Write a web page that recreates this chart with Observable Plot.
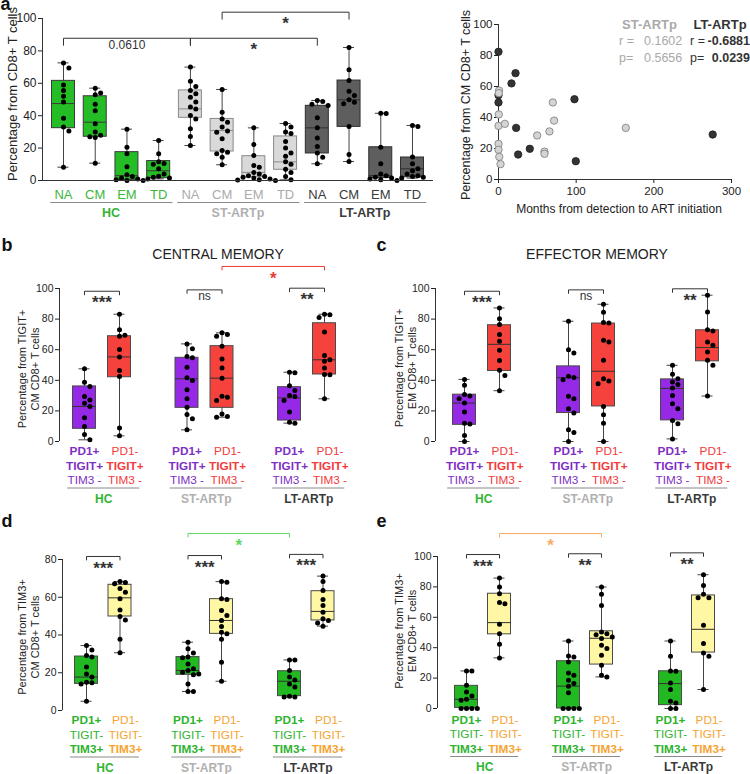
<!DOCTYPE html>
<html><head><meta charset="utf-8">
<script src="https://cdn.jsdelivr.net/npm/d3@7"></script>
<script src="https://cdn.jsdelivr.net/npm/@observablehq/plot@0.6"></script>
<style>
body{margin:0;background:#fff;font-family:"Liberation Sans",Arial,Helvetica,sans-serif;}
#fig{position:relative;width:750px;height:774px;overflow:hidden;background:#fff;}
.ptitle{position:absolute;font-size:14px;line-height:14px;color:#222;transform:translateX(-50%);white-space:nowrap;}
.ytitle{position:absolute;color:#222;white-space:nowrap;text-align:center;transform:translate(-50%,-50%) rotate(-90deg);}
.leg{position:absolute;font-size:12.5px;line-height:17px;white-space:nowrap;}
.leg span{display:inline-block;}
svg{overflow:visible}
</style></head><body><div id="fig"></div>
<script>
// ================= DATA =================
// Panel a: subsets x groups
const aCategories = ["NA", "CM", "EM", "TD"];
const aGroups = ["HC", "ST-ARTp", "LT-ARTp"];
// [min, q1, median, q3, max] per box, order: HC NA..TD, ST NA..TD, LT NA..TD
const aStats = [
  [8.2, 32.3, 47.5, 61.5, 72.6], [10.7, 27, 36, 52, 57], [0, 0.4, 3, 17.5, 31.7], [1, 1.4, 6, 12, 24.7],
  [21.6, 38.7, 44.2, 55.6, 70], [9.7, 17.9, 30.9, 38, 56.2], [0, 2, 5, 15, 32.5], [0.4, 6.6, 11.5, 27.2, 35.2],
  [10.3, 16.7, 32.5, 46.1, 49.4], [11.7, 33.1, 49.8, 61.7, 82.1], [0, 1.5, 3, 20.5, 41.5], [1.5, 2, 7.2, 14.2, 34]
];
const aPoints = [
  [72.6, 69.5, 59, 55.5, 52, 48.5, 38.5, 33, 30.5, 8.2],
  [57, 54, 53, 47, 43, 35, 30, 28, 27, 26.5, 10.7],
  [31.7, 20.6, 16.5, 8.5, 3.5, 2.5, 1.5, 1, 0.5, 0, 0],
  [24.7, 16.5, 11.5, 10.5, 10, 7.2, 4, 2.7, 2, 1.5, 1],
  [70, 61.3, 58, 55.5, 53.5, 51.4, 48.4, 45.3, 44.2, 40.1, 38, 31.9, 27.2, 21.6],
  [56.2, 42.2, 38, 36, 33, 30.5, 29.8, 25.7, 18.5, 17.5, 16.5, 14.4, 9.7],
  [32.5, 22.2, 15.4, 9.3, 8.2, 5, 4, 3, 2.5, 2, 1.5, 1, 0.5, 0.3, 0],
  [35.2, 33, 30, 29, 24, 20, 17, 15, 11.5, 10, 7, 5, 2.5, 0.4],
  [49.4, 48.8, 47, 46.3, 38.7, 32.5, 26.3, 21, 16.9, 14.4, 10.3],
  [82.1, 68.3, 61.7, 55.1, 52.5, 49.8, 48.3, 47.3, 33.3, 16, 11.7],
  [41.5, 41.3, 20.5, 10.3, 4, 3, 2, 1.5, 1, 0.5, 0],
  [34, 33.3, 14.5, 10.3, 7.2, 6, 4, 3, 2.5, 2, 1.5]
];
const aComparisons = [
  {from: 0, to: 4, y: 87.8, label: "0.0610"},
  {from: 4, to: 8, y: 87.8, label: "*"},
  {from: 5, to: 9, y: 103.9, label: "*"}
];

// Scatter (panel a, right)
const stMonths = [0.7, 0.4, 0.4, 0, 8.2, 0, 0, 1, 2.6, 49.8, 65.6, 69.9, 71.6, 59.2, 59.2, 163.9];
const stCM = [57.4, 55.7, 42, 34.6, 35.9, 23, 19.2, 14.6, 9.9, 28.4, 31, 49.7, 38, 18, 16.6, 33.3];
const ltMonths = [0, 0, 0, 21.9, 16.7, 22.7, 25.3, 40.3, 97.8, 99.5, 275.8];
const ltCM = [82.4, 54.4, 49.7, 68.6, 62, 33.3, 16.1, 19.8, 51.8, 11.8, 29];
const corrGroups = ["ST-ARTp", "LT-ARTp"];
const corrR = ["0.1602", "-0.6881"];
const corrP = ["0.5656", "0.0239"];

// Panels b-e: groups x (PD1+ subset, PD1- subset)
const pGroups = ["HC", "ST-ARTp", "LT-ARTp"];
const bcLabels = [
  [["PD1+", "bold"], ["TIGIT+", "bold"], ["TIM3 -", "normal"]],
  [["PD1-", "normal"], ["TIGIT+", "bold"], ["TIM3 -", "normal"]]
];
const deLabels = [
  [["PD1+", "bold"], ["TIGIT-", "normal"], ["TIM3+", "bold"]],
  [["PD1-", "normal"], ["TIGIT-", "normal"], ["TIM3+", "bold"]]
];
// b: CM TIGIT+
const bStats = [
  [1.1, 8.3, 22.9, 36, 47.5], [3.7, 42, 55.3, 68.8, 83.2],
  [7.6, 22, 41, 54.7, 63.8], [15.9, 22, 41.4, 62.3, 71],
  [12, 13.7, 28.5, 35.5, 45.3], [27.9, 43.8, 53.4, 77.3, 83.2]
];
const bPoints = [
  [47.5, 38.8, 36, 29.4, 27.2, 25, 22.9, 15.5, 9.8, 4.6, 1.1],
  [83.2, 73, 69.5, 68.8, 60.1, 55.3, 46.4, 42.5, 8.9, 3.7],
  [63.8, 60.6, 55.5, 54.7, 48.6, 41.6, 39.9, 33.8, 27.9, 22.4, 17.6, 14.8, 7.6],
  [71, 70, 68.8, 62.3, 54, 48, 41.4, 29.6, 29, 26.8, 18, 16.3, 15.9],
  [45.3, 45, 36.4, 33.3, 30, 29.4, 26.8, 19.2, 12.6, 12],
  [83.2, 82.8, 81, 71.5, 56.2, 53.4, 52.5, 48.1, 43.8, 43.6, 27.9]
];
const bComparisons = [
  {a: [0, 0], b: [0, 1], y: 98.2, label: "***", color: "#333"},
  {a: [1, 0], b: [1, 1], y: 99.1, label: "ns", color: "#333"},
  {a: [2, 0], b: [2, 1], y: 100.2, label: "**", color: "#333"},
  {a: [1, 1], b: [2, 1], y: 114.4, label: "*", color: "#ee3a34"}
];
// c: EM TIGIT+
const cStats = [
  [0, 10.9, 25.1, 30.6, 40.6], [33.2, 46.1, 63.5, 76, 87.3],
  [0, 18.6, 41.7, 49.1, 78.6], [0, 22.9, 45.9, 77.1, 89.7],
  [1.7, 13.8, 34.7, 40.6, 49.8], [29.7, 52.4, 61.4, 72.7, 95.6]
];
const cPoints = [
  [40.6, 36.7, 30.8, 29.7, 28, 25.1, 19.2, 12, 11.4, 3.9, 0],
  [87.3, 80.3, 76.4, 69.9, 65.5, 59.6, 53, 46.5, 43.2, 33.2],
  [78.6, 60, 57.9, 42.6, 41.9, 40.4, 29.5, 27.9, 21.4, 18.6, 7.6, 5.9, 0],
  [89.7, 84.5, 77.7, 77.5, 66.2, 65.1, 53.1, 41, 39.5, 37.8, 22.9, 17.5, 12, 0],
  [49.8, 43.9, 41, 38.9, 37.3, 34.9, 30.1, 24.7, 21.4, 13.8, 11.6, 1.7],
  [95.6, 84.7, 73.1, 72.3, 65.1, 62.9, 58.5, 53.1, 49.8, 29.7]
];
const cComparisons = [
  {a: [0, 0], b: [0, 1], y: 98.2, label: "***", color: "#333"},
  {a: [1, 0], b: [1, 1], y: 99.1, label: "ns", color: "#333"},
  {a: [2, 0], b: [2, 1], y: 99.8, label: "**", color: "#333"}
];
// d: CM TIM3+
const dStats = [
  [4.9, 14.1, 17.7, 28.6, 34.4], [30.6, 49.8, 59.7, 66.6, 68.3],
  [10.1, 18.9, 21.2, 28.3, 36.2], [15.5, 40.6, 47.7, 59, 68.3],
  [7.1, 7.6, 15.5, 20.8, 26.8], [44.7, 47.7, 52.5, 63.2, 71.2]
];
const dPoints = [
  [34.4, 32.1, 29.1, 28.3, 23, 19.4, 17.7, 15, 14.7, 14.1, 4.9],
  [68.3, 67.8, 67.1, 64.6, 62.7, 59.2, 53.3, 49.8, 48, 37.8, 30.6],
  [36.2, 32.7, 30.4, 28.3, 27.9, 24.7, 22.1, 21.2, 20.3, 19.4, 18.9, 14.1, 10.1, 10.1],
  [68.3, 68, 59.2, 58.8, 53, 50.3, 47.7, 44.5, 41.5, 40.6, 37.8, 25.6, 15.5],
  [26.8, 26.8, 21.2, 17.7, 16.2, 14.1, 12.4, 7.6, 7.1, 7.1],
  [71.2, 68.3, 63.6, 58.8, 55.6, 52.1, 48.6, 47.7, 46.4, 44.7]
];
const dComparisons = [
  {a: [0, 0], b: [0, 1], y: 81.6, label: "***", color: "#333"},
  {a: [1, 0], b: [1, 1], y: 82.1, label: "***", color: "#333"},
  {a: [2, 0], b: [2, 1], y: 82.7, label: "***", color: "#333"},
  {a: [1, 0], b: [2, 0], y: 93.8, label: "*", color: "#5fd65f"}
];
// e: EM TIM3+
const eStats = [
  [0, 0.4, 6.1, 14.9, 24.7], [33.3, 48.8, 56.5, 75.5, 85.8],
  [0, 0, 14.7, 31.1, 44.4], [20.8, 28.9, 46.2, 50.8, 79.9],
  [0, 2.2, 16.4, 24.5, 44.4], [12.5, 36.8, 52.1, 74.4, 88]
];
const ePoints = [
  [24.7, 24.7, 15.3, 10.9, 8.3, 6.1, 5.5, 0, 0, 0, 0],
  [85.8, 79.9, 75.5, 69.8, 68.9, 55.4, 49.2, 42.2, 33.3],
  [44.4, 34.6, 33.9, 30.6, 23.4, 21.9, 18.6, 16.4, 14.7, 10.3, 0, 0, 0, 0],
  [79.9, 75.1, 67.8, 50.3, 49.2, 48.6, 47, 46, 41.6, 39.4, 35, 28.4, 21.9, 20.8],
  [44.4, 34.4, 24.7, 24.5, 16.8, 12.5, 4.8, 3.7, 0, 0],
  [88, 81, 75.1, 72.9, 72.9, 54.7, 42.7, 36.5, 34.4, 12.5]
];
const eComparisons = [
  {a: [0, 0], b: [0, 1], y: 101.3, label: "***", color: "#333"},
  {a: [1, 0], b: [1, 1], y: 101.8, label: "**", color: "#333"},
  {a: [2, 0], b: [2, 1], y: 102.4, label: "**", color: "#333"},
  {a: [0, 1], b: [1, 1], y: 115.1, label: "*", color: "#f5ab62"}
];

// ================= STYLE / HELPERS =================
const FONT = '"Liberation Sans", Arial, Helvetica, sans-serif';
const fig = document.getElementById("fig");
const groupText = {"HC": "#33b533", "ST-ARTp": "#b0b0b0", "LT-ARTp": "#3a3a3a"};
function place(node, left, top) {
  node.style.position = "absolute"; node.style.left = left + "px"; node.style.top = top + "px";
  fig.appendChild(node);
}
function yTitle(html, cx, cy, size, lh) {
  const d = document.createElement("div");
  d.className = "ytitle"; d.innerHTML = html;
  d.style.fontSize = size + "px"; d.style.lineHeight = lh + "px";
  place(d, cx, cy);
}
// panel letter drawn inside the panel's svg; (px, baseline) in page pixels
function letterMark(t, px, baseline, left, top, mL, mT) {
  return Plot.text([t], {frameAnchor: "top-left", textAnchor: "start", lineAnchor: "middle",
    dx: px - (left + mL), dy: baseline - 5.8 - (top + mT), fontSize: 18, fontWeight: "bold", fill: "#111"});
}
function swarm(values, pos, kx, ky, r) {
  const order = values.map((v, i) => i).sort((a, b) => values[b] - values[a]);
  const placed = [], out = [], d = 2 * r + 0.4;
  for (const i of order) {
    const py = values[i] * ky;
    let off = 0;
    for (const c of [0, 1, -1, 2, -2, 3, -3, 4, -4]) {
      const ox = c * d;
      if (placed.every(p => Math.hypot(p.x - ox, p.y - py) >= d)) { off = ox; break; }
    }
    placed.push({x: off, y: py});
    out.push({x: pos + off / kx, y: values[i]});
  }
  return out;
}
function bracketMarks(list, ky, tickPx) {
  const pts = [];
  list.forEach((c, i) => {
    const t = tickPx / ky;
    pts.push({id: i, x: c.x1, y: c.y - t, s: c.color}, {id: i, x: c.x1, y: c.y, s: c.color},
             {id: i, x: c.x2, y: c.y, s: c.color}, {id: i, x: c.x2, y: c.y - t, s: c.color});
  });
  const lab = list.map(c => ({x: (c.x1 + c.x2) / 2, y: c.y, text: c.label, s: c.color}));
  const star = lab.filter(d => /^\*+$/.test(d.text)), other = lab.filter(d => !/^\*+$/.test(d.text));
  return [
    Plot.line(pts, {x: "x", y: "y", z: "id", stroke: "s", strokeWidth: 1}),
    Plot.text(star, {x: "x", y: "y", text: "text", fill: "s", fontSize: 17, fontWeight: "bold", lineAnchor: "top", dy: 5}),
    Plot.text(other, {x: "x", y: "y", text: "text", fill: "s", fontSize: 12, lineAnchor: "top", dy: 2})
  ];
}
const plotStyle = {fontFamily: FONT, fontSize: "11px", color: "#222", background: "transparent", overflow: "visible"};
const DOT_R = 2.5;

// ================= PANEL a (box) =================
(function () {
  const W = 445, H = 222, mL = 42, mR = 12, mT = 18, mB = 42;
  const x0 = 63, unit = 31.727;
  const xDom = [(mL - x0) / unit, (W - mR - x0) / unit];
  const ky = (H - mT - mB) / 100;
  const fills = {"HC": "#25bd25", "ST-ARTp": "#d9d9d9", "LT-ARTp": "#5e5e5e"};
  const edges = {"HC": "#3a3a3a", "ST-ARTp": "#8a8a8a", "LT-ARTp": "#2e2e2e"};
  const catText = {"HC": "#3cb83c", "ST-ARTp": "#ababab", "LT-ARTp": "#3a3a3a"};
  const hw = 11.5 / unit, cw = 5.5 / unit;
  const boxes = aStats.map((s, i) => {
    const g = aGroups[Math.floor(i / aCategories.length)];
    return {pos: i, g, fill: fills[g], edge: edges[g], min: s[0], q1: s[1], med: s[2], q3: s[3], max: s[4]};
  });
  const caps = boxes.flatMap(b => [{pos: b.pos, y: b.min}, {pos: b.pos, y: b.max}]);
  const dots = aPoints.flatMap((p, i) => swarm(p, i, unit, ky, DOT_R));
  const catLabels = boxes.map(b => ({x: b.pos, y: 0, text: aCategories[b.pos % aCategories.length], fill: catText[b.g]}));
  const grp = aGroups.map((g, gi) => ({g, x1: gi * 4 - 0.4, x2: gi * 4 + 3 + 0.45, x: gi * 4 + 1.5, y: 0, fill: groupText[g]}));
  const br = aComparisons.map(c => ({x1: c.from, x2: c.to, y: c.y, label: c.label, color: "#333"}));
  const plot = Plot.plot({
    width: W, height: H, marginLeft: mL, marginRight: mR, marginTop: mT, marginBottom: mB,
    style: plotStyle,
    x: {domain: xDom, axis: null}, y: {domain: [0, 100], axis: null}, color: {type: "identity"},
    marks: [
      Plot.ruleX(boxes, {x: "pos", y1: "min", y2: "max", stroke: "#444", strokeWidth: 1}),
      Plot.ruleY(caps, {x1: d => d.pos - cw, x2: d => d.pos + cw, y: "y", stroke: "#444", strokeWidth: 1}),
      Plot.rect(boxes, {x1: d => d.pos - hw, x2: d => d.pos + hw, y1: "q1", y2: "q3", fill: "fill", stroke: "edge", strokeWidth: 1}),
      Plot.ruleY(boxes, {x1: d => d.pos - hw, x2: d => d.pos + hw, y: "med", stroke: "edge", strokeWidth: 1}),
      Plot.dot(dots, {x: "x", y: "y", r: DOT_R, fill: "#000"}),
      Plot.ruleX([xDom[0]], {stroke: "#333"}),
      Plot.ruleY([0], {stroke: "#333"}),
      Plot.axisY({ticks: [0, 20, 40, 60, 80, 100], tickSize: 4, tickPadding: 2, label: null, fontSize: 12}),
      Plot.text(catLabels, {x: "x", y: "y", text: "text", fill: "fill", fontSize: 13, dy: 14}),
      Plot.ruleY(grp, {x1: "x1", x2: "x2", y: "y", dy: 22, stroke: "#8a8a8a"}),
      Plot.text(grp, {x: "x", y: "y", text: "g", fill: "fill", fontWeight: "bold", fontSize: 12.5, dy: 32}),
      ...bracketMarks(br, ky, 7),
      letterMark("a", 0, 10, 0, 0, mL, mT)
    ]
  });
  place(plot, 0, 0);
  yTitle("Percentage from CD8+ T cells", 12, 94, 13, 15);
})();

// ================= SCATTER =================
(function () {
  const W = 375, H = 222, mL = 123, mR = 19, mT = 24, mB = 43;
  const st = stMonths.map((m, i) => ({m, v: stCM[i]}));
  const lt = ltMonths.map((m, i) => ({m, v: ltCM[i]}));
  const plot = Plot.plot({
    width: W, height: H, marginLeft: mL, marginRight: mR, marginTop: mT, marginBottom: mB,
    style: plotStyle,
    x: {domain: [0, 300], axis: null}, y: {domain: [0, 100], axis: null},
    marks: [
      Plot.ruleX([0], {stroke: "#333"}),
      Plot.ruleY([0], {stroke: "#333"}),
      Plot.axisY({ticks: [0, 20, 40, 60, 80, 100], tickSize: 4, tickPadding: 2, label: null, fontSize: 11.5}),
      Plot.axisX({ticks: [0, 100, 200, 300], tickSize: 4, tickPadding: 3, label: null, fontSize: 11.5}),
      Plot.dot(lt, {x: "m", y: "v", r: 3.7, fill: "#333", stroke: "#1e1e1e", strokeWidth: 0.8}),
      Plot.dot(st, {x: "m", y: "v", r: 3.7, fill: "#d4d4d4", stroke: "#7a7a7a", strokeWidth: 0.8}),
      Plot.text(["Months from detection to ART initiation"], {frameAnchor: "bottom", dx: 4, dy: 33, fontSize: 12, fill: "#222"})
    ]
  });
  place(plot, 375, 0);
  yTitle("Percentage from CM CD8+ T cells", 466, 105, 12.5, 14);
  // correlation legend
  const cols = [{left: 619, color: "#a9a9a9", lw: 25, nw: 36, bold: false}, {left: 690, color: "#333", lw: 17, nw: 43, bold: true}];
  corrGroups.forEach((g, i) => {
    const c = cols[i];
    const d = document.createElement("div");
    d.className = "leg";
    d.style.color = c.color;
    const nb = c.bold ? "font-weight:bold;" : "";
    d.innerHTML =
      `<div style="font-weight:bold;font-size:13px;width:${c.lw + c.nw}px;text-align:center">${g}</div>` +
      `<div><span style="width:${c.lw}px">r =</span><span style="width:${c.nw}px;text-align:right;${nb}">${corrR[i]}</span></div>` +
      `<div><span style="width:${c.lw}px">p=</span><span style="width:${c.nw}px;text-align:right;${nb}">${corrP[i]}</span></div>`;
    place(d, c.left, 16);
  });
})();

// ================= PANELS b-e =================
function pairPanel(cfg) {
  const {W, H, mL, mR, mT, mB, x0, unit, pitch, yMax, ticks, stats, points, fills, textCols, labels, comps, labelShift} = cfg;
  const xDom = [(mL - x0) / unit, (W - mR - x0) / unit];
  const ky = (H - mT - mB) / yMax;
  const pos = (g, s) => g * pitch / unit + s;
  const hw = 11.5 / unit, cw = 5.5 / unit;
  const boxes = stats.map((s, i) => {
    const g = Math.floor(i / 2), k = i % 2;
    return {pos: pos(g, k), fill: fills[k], min: s[0], q1: s[1], med: s[2], q3: s[3], max: s[4]};
  });
  const caps = boxes.flatMap(b => [{pos: b.pos, y: b.min}, {pos: b.pos, y: b.max}]);
  const dots = points.flatMap((p, i) => swarm(p, boxes[i].pos, unit, ky, DOT_R));
  const rows = [];
  pGroups.forEach((g, gi) => [0, 1].forEach(k => labels[k].forEach(([t, w], r) =>
    rows.push({x: pos(gi, k), y: 0, text: t, w, r, k, fill: textCols[k]}))));
  const rowDy = [10, 24.5, 39].map(v => v + labelShift);
  const subsetDx = [0, 5.5];
  const textMarks = [];
  [0, 1].forEach(k => [0, 1, 2].forEach(r => ["bold", "normal"].forEach(w => {
    const sel = rows.filter(d => d.k === k && d.r === r && d.w === w);
    if (sel.length) textMarks.push(Plot.text(sel,
      {x: "x", y: "y", text: "text", fill: "fill", fontWeight: w, fontSize: 11.8, dx: subsetDx[k], dy: rowDy[r]}));
  })));
  const grp = pGroups.map((g, gi) => ({g, x1: pos(gi, 0) - 0.48, x2: pos(gi, 1) + 0.58, x: pos(gi, 0.55), y: 0, fill: groupText[g]}));
  const br = comps.map(c => ({x1: pos(c.a[0], c.a[1]), x2: pos(c.b[0], c.b[1]), y: c.y, label: c.label, color: c.color}));
  const plot = Plot.plot({
    width: W, height: H, marginLeft: mL, marginRight: mR, marginTop: mT, marginBottom: mB,
    style: plotStyle,
    x: {domain: xDom, axis: null}, y: {domain: [0, yMax], axis: null}, color: {type: "identity"},
    marks: [
      Plot.ruleX(boxes, {x: "pos", y1: "min", y2: "max", stroke: "#444", strokeWidth: 1}),
      Plot.ruleY(caps, {x1: d => d.pos - cw, x2: d => d.pos + cw, y: "y", stroke: "#444", strokeWidth: 1}),
      Plot.rect(boxes, {x1: d => d.pos - hw, x2: d => d.pos + hw, y1: "q1", y2: "q3", fill: "fill", stroke: "#4a4a4a", strokeWidth: 1}),
      Plot.ruleY(boxes, {x1: d => d.pos - hw, x2: d => d.pos + hw, y: "med", stroke: "#333", strokeWidth: 1}),
      Plot.dot(dots, {x: "x", y: "y", r: DOT_R, fill: "#000"}),
      Plot.ruleX([xDom[0]], {stroke: "#333"}),
      Plot.axisY({ticks, tickSize: 4, tickPadding: 2, label: null, fontSize: 10.5}),
      ...textMarks,
      Plot.ruleY(grp, {x1: "x1", x2: "x2", y: "y", dy: 46.5 + labelShift, stroke: "#8a8a8a"}),
      Plot.text(grp, {x: "x", y: "y", text: "g", fill: "fill", fontWeight: "bold", fontSize: 12, dy: 57.5 + labelShift}),
      ...bracketMarks(br, ky, 3.5),
      letterMark(cfg.letter, cfg.lx, cfg.lb, cfg.left, cfg.top, mL, mT)
    ]
  });
  place(plot, cfg.left, cfg.top);
  yTitle(cfg.title, cfg.tx, cfg.ty, 11, 13.3);
}
const t100 = [0, 20, 40, 60, 80, 100];
pairPanel({left: 0, top: 250, W: 372, H: 255, mL: 59, mR: 12, mT: 38, mB: 64, x0: 84, unit: 35, pitch: 102.5,
  yMax: 100, ticks: t100, stats: bStats, points: bPoints, fills: ["#9629e6", "#f6423c"], textCols: ["#7e2fc4", "#f23b3b"],
  labels: bcLabels, comps: bComparisons, title: "Percentage from TIGIT+<br>CM CD8+ T cells", tx: 28.5, ty: 369, labelShift: 0,
  letter: "b", lx: 1, lb: 251});
pairPanel({left: 375, top: 250, W: 375, H: 255, mL: 60, mR: 10, mT: 38, mB: 64, x0: 89, unit: 35, pitch: 104,
  yMax: 100, ticks: t100, stats: cStats, points: cPoints, fills: ["#9629e6", "#f6423c"], textCols: ["#7e2fc4", "#f23b3b"],
  labels: bcLabels, comps: cComparisons, title: "Percentage from TIGIT+<br>EM CD8+ T cells", tx: 405.5, ty: 368, labelShift: 0,
  letter: "c", lx: 376, lb: 251});
pairPanel({left: 0, top: 515, W: 372, H: 259, mL: 62, mR: 12, mT: 44, mB: 64, x0: 86, unit: 33.5, pitch: 101.5,
  yMax: 80, ticks: [0, 20, 40, 60, 80], stats: dStats, points: dPoints, fills: ["#21b821", "#fff7a3"], textCols: ["#2fb32f", "#f6a431"],
  labels: deLabels, comps: dComparisons, title: "Percentage from TIM3+<br>CM CD8+ T cells", tx: 28.5, ty: 637, labelShift: 0,
  letter: "d", lx: 1, lb: 527});
pairPanel({left: 375, top: 515, W: 375, H: 259, mL: 62, mR: 10, mT: 41, mB: 66, x0: 91, unit: 33, pitch: 102,
  yMax: 100, ticks: t100, stats: eStats, points: ePoints, fills: ["#21b821", "#fff7a3"], textCols: ["#2fb32f", "#f6a431"],
  labels: deLabels, comps: eComparisons, title: "Percentage from TIM3+<br>EM CD8+ T cells", tx: 405.5, ty: 631, labelShift: 1.5,
  letter: "e", lx: 376, lb: 527});

// ================= PANEL TITLES =================
[["CENTRAL MEMORY", 218, 247], ["EFFECTOR MEMORY", 597, 247]].forEach(([t, x, y]) => {
  const d = document.createElement("div"); d.className = "ptitle"; d.textContent = t; place(d, x, y);
});
</script></body></html>
